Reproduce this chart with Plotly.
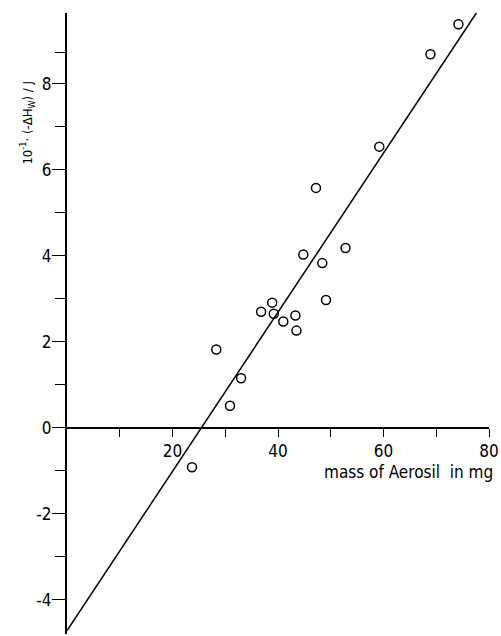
import plotly.graph_objects as go

# Measured points (mass of Aerosil in mg, 10^-1 * (-ΔH_W) / J)
mass_mg = [23.7, 28.3, 30.9, 33.0, 36.8, 38.9, 39.2, 41.0, 43.3, 43.5,
           44.8, 47.2, 48.4, 49.1, 52.8, 59.2, 68.9, 74.2]
enthalpy = [-0.92, 1.82, 0.51, 1.15, 2.70, 2.91, 2.65, 2.47, 2.61, 2.26,
            4.03, 5.58, 3.83, 2.97, 4.18, 6.54, 8.69, 9.39]

# Regression line end points
fit_x = [0.0, 77.6]
fit_y = [-4.72, 9.65]

y_major_vals = [-4, -2, 0, 2, 4, 6, 8]
y_major_text = ["-4", "-2", "0", "2", "4", "6", "8"]
y_minor_vals = [-3, -1, 1, 3, 5, 7, 8.74]
x_major_vals = [20, 40, 60, 80]
x_major_text = ["20", "40", "60", "80"]
x_minor_vals = [10, 30, 50, 70]

FONT = "DejaVu Sans Condensed, Liberation Sans Narrow, sans-serif"
y_lo, y_hi = -4.8, 9.65
x_axis_pos = (0 - y_lo) / (y_hi - y_lo)

fig = go.Figure()
fig.add_trace(go.Scatter(x=fit_x, y=fit_y, mode="lines",
                         line=dict(color="black", width=1.5),
                         hoverinfo="skip", showlegend=False, cliponaxis=False))
fig.add_trace(go.Scatter(x=mass_mg, y=enthalpy, mode="markers",
                         marker=dict(symbol="circle-open", size=9,
                                     color="black", line=dict(width=1.5)),
                         showlegend=False))

fig.update_layout(
    width=501, height=636,
    margin=dict(l=67, r=9, t=13, b=2),
    paper_bgcolor="white", plot_bgcolor="white",
    font=dict(family=FONT, size=16, color="black"),
    xaxis=dict(range=[0, 80], showgrid=False, zeroline=False,
               showline=True, linecolor="black", linewidth=2,
               anchor="free", position=x_axis_pos,
               tickmode="array", tickvals=x_major_vals, ticktext=x_major_text,
               ticks="outside", ticklen=8, tickwidth=1.3, tickcolor="black",
               ticklabeloverflow="allow",
               tickfont=dict(family=FONT, size=17),
               minor=dict(tickmode="array", tickvals=x_minor_vals,
                          ticks="outside", ticklen=8, tickwidth=1.3,
                          tickcolor="black", showgrid=False)),
    yaxis=dict(range=[y_lo, y_hi], showgrid=False, zeroline=False,
               showline=True, linecolor="black", linewidth=2,
               tickmode="array", tickvals=y_major_vals, ticktext=y_major_text,
               ticks="outside", ticklen=13, tickwidth=1.3, tickcolor="black",
               ticklabelstandoff=-3,
               tickfont=dict(family=FONT, size=17),
               minor=dict(tickmode="array", tickvals=y_minor_vals,
                          ticks="outside", ticklen=10, tickwidth=1.3,
                          tickcolor="black", showgrid=False)),
    annotations=[
        dict(text="mass of Aerosil  in mg", xref="paper", yref="paper",
             x=1.0, y=x_axis_pos, xanchor="right", yanchor="top",
             xshift=6, yshift=-32, showarrow=False, font=dict(family=FONT, size=17)),
        dict(text="10<sup>-1</sup>· (-ΔH<sub>W</sub>) / J", xref="paper", yref="paper",
             x=0, y=(7.1 - y_lo) / (y_hi - y_lo), xanchor="center", yanchor="middle",
             xshift=-40, textangle=-90, showarrow=False,
             font=dict(family=FONT, size=13)),
    ],
)

fig.write_html("out.html")
